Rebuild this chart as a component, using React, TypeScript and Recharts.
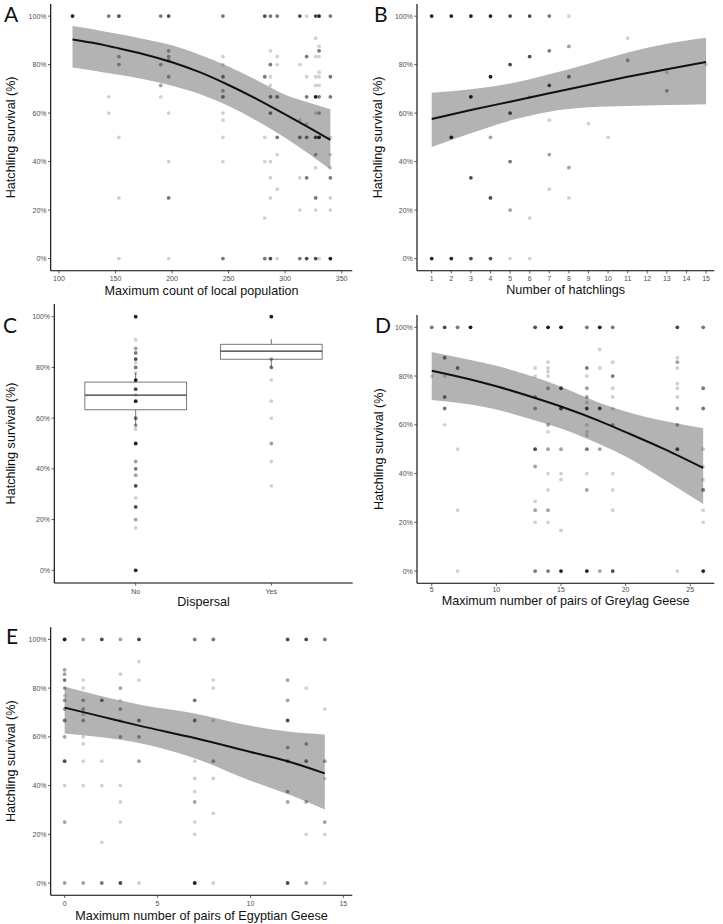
import React from 'react';
import { ComposedChart, Area, Line, Scatter, XAxis, YAxis, ReferenceArea, ReferenceLine } from 'recharts';

// point = [x, survival %, overlap shade 1..5]
type Pt = [number, number, number];

const SHADE_ALPHA = [0, 0.18, 0.37, 0.53, 0.7, 0.88];
const PCT_TICKS = [0, 20, 40, 60, 80, 100];
const Y_TITLE = 'Hatchling survival (%)';

// A - local population
const popFitX = [112, 130, 150, 175, 200, 225, 250, 275, 300, 320, 340];
const popFit = [90.4, 89, 87, 84.3, 81, 76.8, 71.6, 65.8, 59.5, 54.3, 49];
const popLow = [78.8, 77.6, 76, 74, 71.3, 67.8, 62.9, 56.8, 49.8, 43.5, 36.7];
const popHigh = [95.9, 94.6, 92.8, 90.6, 88, 84, 79.2, 73.6, 67.6, 64.5, 61.6];
const popPoints: Pt[] = [
  [112, 100, 5],
  [144, 100, 3], [144, 66.7, 1], [144, 60, 1],
  [153, 100, 4], [153, 83.3, 2], [153, 80, 2], [153, 50, 1], [153, 25, 1], [153, 0, 1],
  [190, 100, 3], [190, 80, 2], [190, 71.4, 2], [190, 66.7, 1],
  [197, 100, 4], [197, 85.7, 2], [197, 83.3, 2], [197, 81.8, 2], [197, 75, 2], [197, 60, 1], [197, 40, 1], [197, 25, 3], [197, 0, 1],
  [245, 100, 3], [245, 83.3, 1], [245, 80, 1], [245, 75, 3], [245, 69.2, 2], [245, 66.7, 3], [245, 60, 1], [245, 57.1, 1], [245, 50, 1], [245, 40, 1], [245, 0, 3],
  [282, 100, 4], [282, 75, 3], [282, 50, 1], [282, 40, 1], [282, 16.7, 1], [282, 0, 3],
  [287, 100, 3], [287, 85.7, 1], [287, 80, 3], [287, 75, 1], [287, 71.4, 1], [287, 66.7, 3], [287, 60, 3], [287, 40, 1], [287, 33.3, 1], [287, 25, 1], [287, 0, 4],
  [293, 100, 3], [293, 83.3, 1], [293, 80, 1], [293, 66.7, 3], [293, 50, 3], [293, 42.9, 1], [293, 28.6, 1], [293, 0, 1],
  [313, 100, 4], [313, 80, 1], [313, 57.1, 1], [313, 50, 3], [313, 33.3, 1], [313, 20, 1], [313, 0, 3],
  [319, 100, 1], [319, 83.3, 3], [319, 75, 1], [319, 66.7, 3], [319, 55.6, 1], [319, 50, 3], [319, 33.3, 3], [319, 0, 4],
  [327, 100, 4], [327, 90.9, 1], [327, 83.3, 1], [327, 75, 1], [327, 71.4, 1], [327, 66.7, 5], [327, 60, 1], [327, 50, 4], [327, 42.9, 2], [327, 37.5, 1], [327, 25, 3], [327, 20, 1], [327, 0, 4],
  [330, 100, 5], [330, 87.5, 1], [330, 85.7, 3], [330, 83.3, 1], [330, 76.9, 1], [330, 75, 1], [330, 71.4, 1], [330, 66.7, 3], [330, 60, 2], [330, 50, 5], [330, 0, 1],
  [340, 100, 3], [340, 75, 3], [340, 66.7, 3], [340, 50, 1], [340, 42.9, 1], [340, 37.5, 1], [340, 33.3, 3], [340, 25, 1], [340, 20, 1], [340, 0, 5],
];

// B - number of hatchlings
const hatchFitX = [1, 3, 5, 7, 9, 11, 13, 15];
const hatchFit = [57.6, 61.3, 64.7, 68.2, 71.6, 75, 78.1, 81.1];
const hatchLow = [46, 51.7, 56.9, 60.6, 62.4, 62.9, 63.3, 63.7];
const hatchHigh = [68.4, 69.8, 72.2, 76, 80.4, 85, 88.6, 91.1];
const hatchPoints: Pt[] = [
  [1, 100, 5], [1, 0, 5],
  [2, 100, 5], [2, 50, 5], [2, 0, 5],
  [3, 100, 5], [3, 66.7, 5], [3, 33.3, 4], [3, 0, 4],
  [4, 100, 5], [4, 75, 5], [4, 50, 2], [4, 25, 4], [4, 0, 4],
  [5, 100, 4], [5, 80, 4], [5, 60, 4], [5, 40, 3], [5, 20, 2], [5, 0, 1],
  [6, 100, 4], [6, 83.3, 4], [6, 66.7, 1], [6, 16.7, 1], [6, 0, 1],
  [7, 100, 3], [7, 85.7, 3], [7, 71.4, 4], [7, 57.1, 1], [7, 42.9, 2], [7, 28.6, 1],
  [8, 100, 1], [8, 87.5, 2], [8, 75, 3], [8, 37.5, 2], [8, 25, 1],
  [9, 55.6, 1], [10, 50, 1], [11, 90.9, 1], [11, 81.8, 2], [13, 76.9, 1], [13, 69.2, 2], [15, 80, 1],
];

// C - dispersal
const dispersalCats = ['No', 'Yes'];
const boxLow = [57.1, 80];
const boxQ1 = [63.3, 83.2];
const boxMedian = [69.1, 86.4];
const boxQ3 = [74.2, 89.1];
const boxHigh = [77.8, 91.2];
const dispersalPoints: Pt[] = [
  [1, 100, 5], [1, 90.9, 1], [1, 87.5, 2], [1, 85.7, 3], [1, 83.3, 4], [1, 81.8, 1], [1, 80, 3], [1, 77.8, 1], [1, 75, 5],
  [1, 71.4, 4], [1, 69.2, 1], [1, 66.7, 5], [1, 60, 3], [1, 57.1, 2], [1, 55.6, 1], [1, 50, 5], [1, 42.9, 2], [1, 40, 3],
  [1, 37.5, 2], [1, 33.3, 4], [1, 28.6, 1], [1, 25, 4], [1, 20, 2], [1, 16.7, 1], [1, 0, 5],
  [2, 100, 5], [2, 83.3, 2], [2, 80, 3], [2, 75, 1], [2, 66.7, 1], [2, 60, 1], [2, 50, 2], [2, 42.9, 1], [2, 33.3, 1],
];

// D - greylag geese
const greyFitX = [5, 8, 10, 13, 15, 18, 20, 23, 26];
const greyFit = [82.2, 78.6, 75.8, 71, 67.5, 61.5, 57, 50, 42.3];
const greyLow = [70.2, 68.3, 66.3, 61.8, 58.5, 52, 47, 37.5, 27.5];
const greyHigh = [89.9, 86.6, 84.2, 79.5, 75.6, 69, 65.5, 61.6, 58.6];
const greyPoints: Pt[] = [
  [5, 100, 3], [5, 80, 1],
  [6, 100, 4], [6, 87.5, 3], [6, 80, 1], [6, 71.4, 3], [6, 66.7, 3], [6, 60, 1],
  [7, 100, 3], [7, 83.3, 3], [7, 50, 1], [7, 25, 1], [7, 0, 1],
  [8, 100, 5],
  [13, 100, 4], [13, 83.3, 1], [13, 80, 1], [13, 71.4, 2], [13, 66.7, 2], [13, 50, 4], [13, 42.9, 2], [13, 28.6, 1], [13, 25, 2], [13, 20, 1], [13, 0, 3],
  [14, 100, 5], [14, 85.7, 1], [14, 83.3, 1], [14, 81.8, 1], [14, 80, 1], [14, 75, 2], [14, 60, 2], [14, 57.1, 1], [14, 50, 2], [14, 40, 1], [14, 33.3, 1], [14, 25, 2], [14, 20, 1], [14, 0, 3],
  [15, 100, 5], [15, 75, 4], [15, 66.7, 4], [15, 50, 2], [15, 40, 1], [15, 37.5, 1], [15, 16.7, 1], [15, 0, 5],
  [17, 100, 3], [17, 83.3, 3], [17, 80, 1], [17, 75, 2], [17, 71.4, 2], [17, 69.2, 1], [17, 66.7, 4], [17, 60, 1], [17, 57.1, 1], [17, 55.6, 1], [17, 50, 3], [17, 40, 1], [17, 33.3, 2], [17, 0, 5],
  [18, 100, 5], [18, 90.9, 1], [18, 83.3, 1], [18, 66.7, 4], [18, 50, 2], [18, 0, 2],
  [19, 100, 3], [19, 85.7, 1], [19, 80, 3], [19, 75, 1], [19, 71.4, 1], [19, 66.7, 1], [19, 60, 2], [19, 40, 1], [19, 33.3, 1], [19, 25, 1], [19, 0, 4],
  [24, 100, 4], [24, 87.5, 1], [24, 85.7, 2], [24, 83.3, 1], [24, 76.9, 1], [24, 75, 1], [24, 71.4, 1], [24, 66.7, 2], [24, 60, 2], [24, 50, 4], [24, 0, 1],
  [26, 100, 3], [26, 75, 3], [26, 66.7, 3], [26, 50, 1], [26, 42.9, 1], [26, 37.5, 1], [26, 33.3, 3], [26, 25, 1], [26, 20, 1], [26, 0, 5],
];

// E - egyptian geese
const egyptFitX = [0, 2, 4, 7, 10, 12, 14];
const egyptFit = [72, 68.3, 64.6, 59.5, 53.8, 50, 45];
const egyptLow = [61.4, 59.8, 57.5, 51.2, 42, 36.5, 30.2];
const egyptHigh = [80.6, 76.7, 73.3, 69.6, 64.5, 62.2, 61];
const egyptPoints: Pt[] = [
  [0, 100, 5], [0, 87.5, 2], [0, 85.7, 2], [0, 83.3, 3], [0, 80, 2], [0, 76.9, 1], [0, 75, 2], [0, 71.4, 2], [0, 66.7, 3], [0, 60, 2], [0, 50, 4], [0, 40, 1], [0, 25, 2], [0, 0, 2],
  [1, 100, 2], [1, 83.3, 1], [1, 80, 1], [1, 75, 2], [1, 71.4, 2], [1, 69.2, 1], [1, 66.7, 2], [1, 60, 1], [1, 57.1, 1], [1, 50, 1], [1, 40, 1], [1, 0, 2],
  [2, 100, 4], [2, 75, 3], [2, 50, 1], [2, 40, 1], [2, 16.7, 1], [2, 0, 3],
  [3, 100, 2], [3, 85.7, 1], [3, 80, 2], [3, 75, 1], [3, 71.4, 2], [3, 66.7, 1], [3, 60, 2], [3, 40, 1], [3, 33.3, 1], [3, 25, 1], [3, 0, 4],
  [4, 100, 4], [4, 90.9, 1], [4, 83.3, 1], [4, 66.7, 3], [4, 60, 2], [4, 50, 2], [4, 0, 1],
  [7, 100, 3], [7, 75, 3], [7, 66.7, 3], [7, 50, 1], [7, 42.9, 1], [7, 37.5, 1], [7, 33.3, 2], [7, 25, 1], [7, 20, 1], [7, 0, 5],
  [8, 100, 3], [8, 83.3, 1], [8, 80, 1], [8, 66.7, 1], [8, 50, 2], [8, 42.9, 1], [8, 28.6, 1], [8, 0, 1],
  [12, 100, 4], [12, 83.3, 2], [12, 75, 2], [12, 66.7, 4], [12, 55.6, 2], [12, 50, 3], [12, 37.5, 2], [12, 33.3, 2], [12, 0, 4],
  [13, 100, 4], [13, 80, 1], [13, 57.1, 2], [13, 50, 3], [13, 33.3, 2], [13, 20, 1], [13, 0, 2],
  [14, 100, 3], [14, 71.4, 1], [14, 50, 2], [14, 42.9, 1], [14, 25, 2], [14, 20, 1], [14, 0, 1],
];

const FONT = '"Liberation Sans", Arial, sans-serif';
const tickStyle = { fontSize: 7, fill: '#4d4d4d' };
const axisLineStyle = { stroke: '#000', strokeWidth: 1.1 };
const tickLineStyle = { stroke: '#333', strokeWidth: 0.8 };

const toPoints = (pts: Pt[]) => pts.map(([x, y, s]) => ({ x, y, s }));
const toFit = (xs: number[], fit: number[], lo: number[], hi: number[]) =>
  xs.map((x, i) => ({ x, fit: fit[i], band: [lo[i], hi[i]] }));

const Dot = (props: any) => {
  if (props.cx == null || props.cy == null) return <g />;
  return <circle cx={props.cx} cy={props.cy} r={1.9} fill="#000" fillOpacity={SHADE_ALPHA[props.payload.s]} />;
};

const xTitle = (text: string, dy: number) => (props: any) => {
  const vb = props.viewBox || { x: 0, y: 0, width: 0 };
  return (
    <text x={vb.x + vb.width / 2} y={vb.y + dy} textAnchor="middle" dominantBaseline="central" fontSize={12.6} fill="#111">
      {text}
    </text>
  );
};

const yTitle = (cxOffset: number) => (props: any) => {
  const vb = props.viewBox || { x: 0, y: 0, height: 0 };
  const cx = cxOffset;
  const cy = vb.y + vb.height / 2;
  return (
    <text x={cx} y={cy} transform={`rotate(-90 ${cx} ${cy})`} textAnchor="middle" dominantBaseline="central" fontSize={12.6} fill="#111">
      {Y_TITLE}
    </text>
  );
};

interface Geo {
  left: number; top: number; width: number; height: number;
  yw: number; mt: number; mr: number; xh: number; yTitleX: number; xTitleDy: number; xtm: number;
}

interface FitPanelProps {
  geo: Geo;
  points: Pt[];
  fit: { x: number; fit: number; band: number[] }[];
  xDomain: [number, number];
  xTicks: number[];
  xLabel: string;
}

const FitPanel: React.FC<FitPanelProps> = ({ geo, points, fit, xDomain, xTicks, xLabel }) => (
  <div style={{ position: 'absolute', left: geo.left, top: geo.top, width: geo.width, height: geo.height }}>
    <ComposedChart width={geo.width} height={geo.height} data={fit} margin={{ top: geo.mt, right: geo.mr, bottom: 0, left: 0 }}>
      <XAxis type="number" dataKey="x" domain={xDomain} ticks={xTicks} allowDataOverflow interval={0}
        height={geo.xh} tick={tickStyle} axisLine={axisLineStyle} tickLine={tickLineStyle} tickSize={2.7} tickMargin={geo.xtm}
        label={xTitle(xLabel, geo.xTitleDy)} />
      <YAxis type="number" domain={[-5, 105]} ticks={PCT_TICKS} allowDataOverflow width={geo.yw}
        tickFormatter={(v: number) => `${v}%`} tick={tickStyle} axisLine={axisLineStyle} tickLine={tickLineStyle}
        tickSize={2.7} tickMargin={1.5} label={yTitle(geo.yTitleX)} />
      <Area dataKey="band" type="monotone" stroke="none" fill="#999" fillOpacity={0.75} isAnimationActive={false} />
      <Scatter data={toPoints(points)} dataKey="y" shape={Dot} isAnimationActive={false} />
      <Line dataKey="fit" type="monotone" stroke="#111" strokeWidth={2} dot={false} isAnimationActive={false} />
    </ComposedChart>
  </div>
);

const DispersalPanel: React.FC<{ geo: Geo }> = ({ geo }) => (
  <div style={{ position: 'absolute', left: geo.left, top: geo.top, width: geo.width, height: geo.height }}>
    <ComposedChart width={geo.width} height={geo.height} margin={{ top: geo.mt, right: geo.mr, bottom: 0, left: 0 }}>
      <XAxis type="number" dataKey="x" domain={[0.4, 2.6]} ticks={[1, 2]} allowDataOverflow
        tickFormatter={(v: number) => dispersalCats[v - 1]}
        height={geo.xh} tick={tickStyle} axisLine={axisLineStyle} tickLine={tickLineStyle} tickSize={2.7} tickMargin={geo.xtm}
        label={xTitle('Dispersal', geo.xTitleDy)} />
      <YAxis type="number" domain={[-5, 105]} ticks={PCT_TICKS} allowDataOverflow width={geo.yw}
        tickFormatter={(v: number) => `${v}%`} tick={tickStyle} axisLine={axisLineStyle} tickLine={tickLineStyle}
        tickSize={2.7} tickMargin={1.5} label={yTitle(geo.yTitleX)} />
      {dispersalCats.map((c, i) => (
        <ReferenceLine key={`wl-${c}`} segment={[{ x: i + 1, y: boxLow[i] }, { x: i + 1, y: boxQ1[i] }]} stroke="#555" strokeWidth={0.8} />
      ))}
      {dispersalCats.map((c, i) => (
        <ReferenceLine key={`wh-${c}`} segment={[{ x: i + 1, y: boxQ3[i] }, { x: i + 1, y: boxHigh[i] }]} stroke="#555" strokeWidth={0.8} />
      ))}
      {dispersalCats.map((c, i) => (
        <ReferenceArea key={`box-${c}`} x1={i + 1 - 0.375} x2={i + 1 + 0.375} y1={boxQ1[i]} y2={boxQ3[i]}
          fill="none" fillOpacity={0} stroke="#555" strokeWidth={0.8} />
      ))}
      {dispersalCats.map((c, i) => (
        <ReferenceLine key={`med-${c}`} segment={[{ x: i + 1 - 0.375, y: boxMedian[i] }, { x: i + 1 + 0.375, y: boxMedian[i] }]} stroke="#333" strokeWidth={1.3} />
      ))}
      <Scatter data={toPoints(dispersalPoints)} dataKey="y" shape={Dot} isAnimationActive={false} />
    </ComposedChart>
  </div>
);

const geoA: Geo = { left: 0, top: 0, width: 362, height: 305, yw: 50.7, mt: 4, mr: 9.7, xh: 34.3, yTitleX: 11.5, xTitleDy: 20, xtm: 3 };
const geoB: Geo = { left: 362, top: 0, width: 361, height: 305, yw: 55, mt: 4, mr: 8.7, xh: 34.3, yTitleX: 16.5, xTitleDy: 19.3, xtm: 3 };
const geoC: Geo = { left: 0, top: 300, width: 362, height: 312, yw: 54.3, mt: 4, mr: 9.3, xh: 29, yTitleX: 11.3, xTitleDy: 18.7, xtm: 3 };
const geoD: Geo = { left: 362, top: 300, width: 361, height: 312, yw: 55, mt: 15.1, mr: 8.7, xh: 28.7, yTitleX: 16.7, xTitleDy: 17.6, xtm: 1.2 };
const geoE: Geo = { left: 0, top: 610, width: 362, height: 314, yw: 50.7, mt: 17.2, mr: 9.7, xh: 28.8, yTitleX: 11.3, xTitleDy: 20.5, xtm: 3 };

// panel letters: left edge and top of the cap height
const letters = [
  { t: 'A', x: 4, y: 6.5 },
  { t: 'B', x: 374, y: 6.5 },
  { t: 'C', x: 3, y: 318 },
  { t: 'D', x: 375, y: 318 },
  { t: 'E', x: 6, y: 629 },
];

export default function App() {
  return (
    <div style={{ position: 'absolute', left: 0, top: 0, width: 723, height: 924, background: '#fff', fontFamily: FONT, overflow: 'hidden' }}>
      <FitPanel geo={geoA} points={popPoints} fit={toFit(popFitX, popFit, popLow, popHigh)}
        xDomain={[92.7, 359.4]} xTicks={[100, 150, 200, 250, 300, 350]} xLabel="Maximum count of local population" />
      <FitPanel geo={geoB} points={hatchPoints} fit={toFit(hatchFitX, hatchFit, hatchLow, hatchHigh)}
        xDomain={[0.25, 15.42]} xTicks={[1, 2, 3, 4, 5, 6, 7, 8, 9, 10, 11, 12, 13, 14, 15]} xLabel="Number of hatchlings" />
      <DispersalPanel geo={geoC} />
      <FitPanel geo={geoD} points={greyPoints} fit={toFit(greyFitX, greyFit, greyLow, greyHigh)}
        xDomain={[3.86, 26.86]} xTicks={[5, 10, 15, 20, 25]} xLabel="Maximum number of pairs of Greylag Geese" />
      <FitPanel geo={geoE} points={egyptPoints} fit={toFit(egyptFitX, egyptFit, egyptLow, egyptHigh)}
        xDomain={[-0.75, 15.48]} xTicks={[0, 5, 10, 15]} xLabel="Maximum number of pairs of Egyptian Geese" />
      {letters.map((l) => (
        <div key={l.t} style={{ position: 'absolute', left: l.x, top: l.y - 3.6, zIndex: 10, fontFamily: 'Lato, "Open Sans", sans-serif',
          fontSize: 21, lineHeight: '21px', color: '#111' }}>
          {l.t}
        </div>
      ))}
    </div>
  );
}
